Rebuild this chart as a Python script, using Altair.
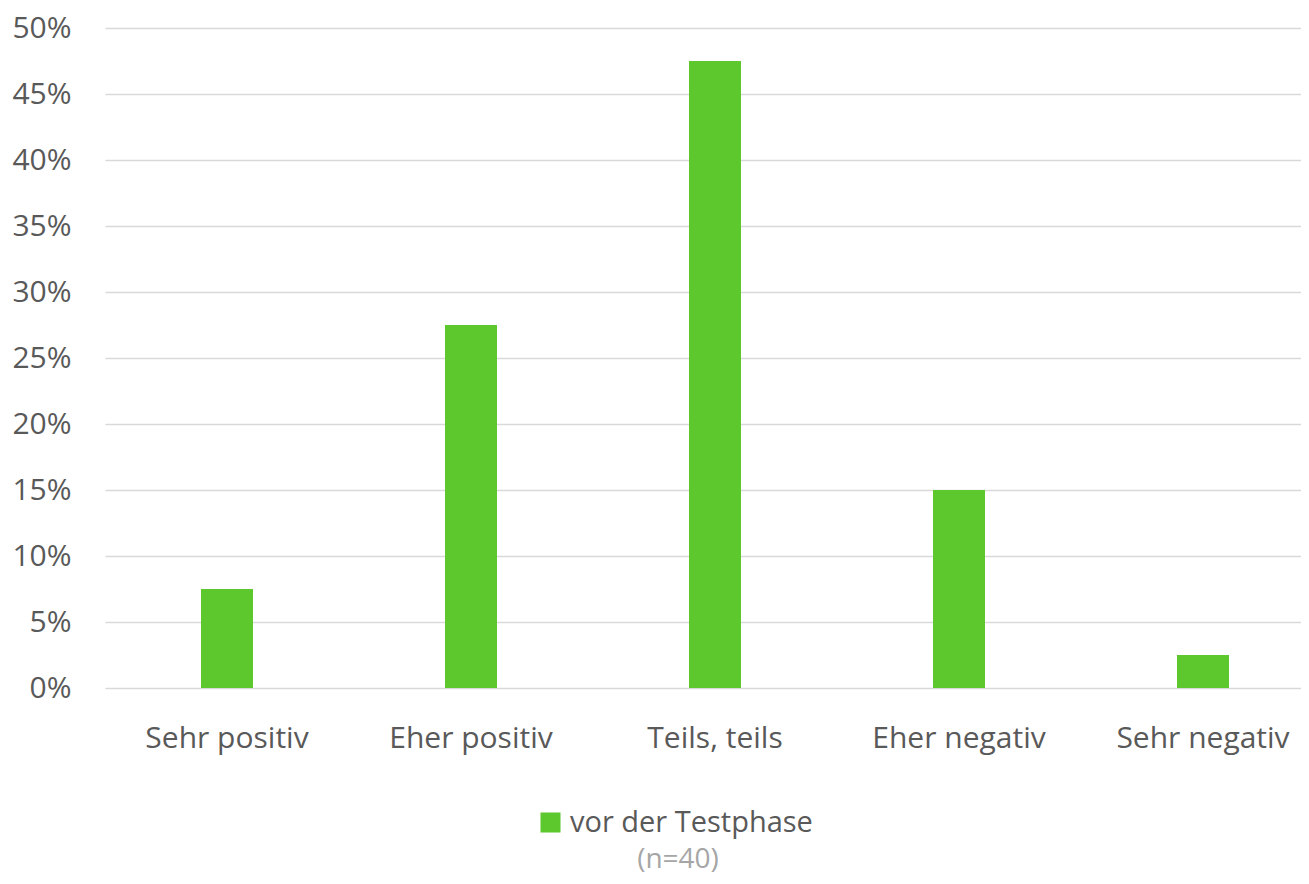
import altair as alt
import pandas as pd

categories = ["Sehr positiv", "Eher positiv", "Teils, teils", "Eher negativ", "Sehr negativ"]
values = [0.075, 0.275, 0.475, 0.15, 0.025]
series = "vor der Testphase"
note = "(n=40)"
y_ticks = [0, 0.05, 0.1, 0.15, 0.2, 0.25, 0.3, 0.35, 0.4, 0.45, 0.5]

df = pd.DataFrame({"Kategorie": categories, "Anteil": values, "Serie": [series] * len(categories)})

FONT = "Open Sans"
TXT = "#595959"
GREEN = "#5DC72E"

bars = alt.Chart(df).mark_bar(size=52).encode(
    x=alt.X("Kategorie:N", sort=categories,
            scale=alt.Scale(range=[0, 1220], paddingInner=0, paddingOuter=0),
            axis=alt.Axis(title=None, labelAngle=0, ticks=False, domain=False,
                          labelFont=FONT, labelFontSize=30, labelColor=TXT,
                          labelBaseline="alphabetic", labelPadding=59)),
    y=alt.Y("Anteil:Q", scale=alt.Scale(domain=[0, 0.5]),
            axis=alt.Axis(title=None, values=y_ticks, format=".0%", ticks=False, domain=False,
                          labelFont=FONT, labelFontSize=30, labelColor=TXT,
                          labelPadding=34, gridColor="#D9D9D9", gridWidth=1.5)),
    color=alt.Color("Serie:N", scale=alt.Scale(domain=[series], range=[GREEN]),
                    legend=alt.Legend(title=None, orient="none", legendX=431, legendY=780,
                                      symbolType="square", symbolSize=400, symbolStrokeWidth=0,
                                      labelFont=FONT, labelFontSize=29, labelColor=TXT,
                                      labelOffset=5, labelLimit=0)),
)

note_text = alt.Chart(pd.DataFrame({"t": [note]})).mark_text(
    font=FONT, fontSize=28, color="#A6A6A6", baseline="alphabetic", align="center"
).encode(text="t:N", x=alt.value(573), y=alt.value(840))

chart = alt.layer(bars, note_text).properties(
    width=1196, height=660,
    autosize=alt.AutoSizeParams(type="none"),
    padding={"left": 97, "top": 20, "right": 0, "bottom": 188},
).configure_view(stroke=None)

chart.save("out.html", embed_options={"renderer": "svg", "actions": False})
